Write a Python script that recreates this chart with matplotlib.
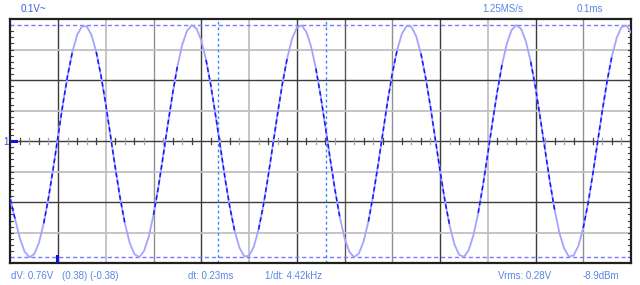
import numpy as np
import matplotlib.pyplot as plt

# trace samples, one every 0.01 ms
t_ms = [0.00, 0.01, 0.02, 0.03, 0.04, 0.05, 0.06, 0.07, 0.08, 0.09,
        0.10, 0.11, 0.12, 0.13, 0.14, 0.15, 0.16, 0.17, 0.18, 0.19,
        0.20, 0.21, 0.22, 0.23, 0.24, 0.25, 0.26, 0.27, 0.28, 0.29,
        0.30, 0.31, 0.32, 0.33, 0.34, 0.35, 0.36, 0.37, 0.38, 0.39,
        0.40, 0.41, 0.42, 0.43, 0.44, 0.45, 0.46, 0.47, 0.48, 0.49,
        0.50, 0.51, 0.52, 0.53, 0.54, 0.55, 0.56, 0.57, 0.58, 0.59,
        0.60, 0.61, 0.62, 0.63, 0.64, 0.65, 0.66, 0.67, 0.68, 0.69,
        0.70, 0.71, 0.72, 0.73, 0.74, 0.75, 0.76, 0.77, 0.78, 0.79,
        0.80, 0.81, 0.82, 0.83, 0.84, 0.85, 0.86, 0.87, 0.88, 0.89,
        0.90, 0.91, 0.92, 0.93, 0.94, 0.95, 0.96, 0.97, 0.98, 0.99,
        1.00, 1.01, 1.02, 1.03, 1.04, 1.05, 1.06, 1.07, 1.08, 1.09,
        1.10, 1.11, 1.12, 1.13, 1.14, 1.15, 1.16, 1.17, 1.18, 1.19,
        1.20, 1.21, 1.22, 1.23, 1.24, 1.25, 1.26, 1.27, 1.28, 1.29,
        1.30]
volts = [-0.190, -0.255, -0.318, -0.362, -0.380, -0.370, -0.333, -0.269, -0.186, -0.088,
         0.017, 0.120, 0.214, 0.292, 0.348, 0.376, 0.376, 0.348, 0.292, 0.214,
         0.120, 0.017, -0.088, -0.186, -0.269, -0.333, -0.370, -0.380, -0.360, -0.313,
         -0.241, -0.152, -0.050, 0.055, 0.156, 0.245, 0.315, 0.361, 0.380, 0.369,
         0.330, 0.266, 0.182, 0.084, -0.021, -0.124, -0.218, -0.295, -0.349, -0.377,
         -0.376, -0.346, -0.289, -0.211, -0.116, -0.013, 0.092, 0.189, 0.272, 0.335,
         0.371, 0.379, 0.358, 0.310, 0.238, 0.148, 0.046, -0.059, -0.159, -0.248,
         -0.317, -0.362, -0.380, -0.368, -0.328, -0.263, -0.178, -0.080, 0.025, 0.128,
         0.221, 0.297, 0.351, 0.377, 0.375, 0.344, 0.287, 0.207, 0.112, 0.008,
         -0.096, -0.193, -0.275, -0.337, -0.372, -0.379, -0.357, -0.308, -0.235, -0.144,
         -0.042, 0.063, 0.163, 0.251, 0.320, 0.364, 0.380, 0.367, 0.326, 0.260,
         0.175, 0.075, -0.029, -0.132, -0.225, -0.300, -0.352, -0.378, -0.374, -0.342,
         -0.284, -0.204, -0.108, -0.004, 0.100, 0.197, 0.278, 0.338, 0.373, 0.379,
         0.356]

grid_t = [0.1, 0.2, 0.3, 0.4, 0.5, 0.6, 0.7, 0.8, 0.9, 1.0, 1.1, 1.2]
grid_v = [-0.3, -0.2, -0.1, 0.0, 0.1, 0.2, 0.3]
cursor_v = [0.38, -0.38]
cursor_t = [0.4354, 0.661]
trigger_t = 0.0972

dark, mid, light_g = '#3c3c3c', '#909090', '#c0c0c0'
grid_t_col = [dark, light_g, mid, dark, light_g, dark, '#5a5a5a', mid, dark, light_g, dark, mid]
grid_v_col = [light_g, dark, light_g, dark, light_g, dark, light_g]

fig = plt.figure(figsize=(6.4, 2.85), dpi=100)
ax = fig.add_axes([10.3 / 640, 21.7 / 285, 620.7 / 640, 244.3 / 285])
ax.set_xlim(0, 1.3)
ax.set_ylim(-0.4, 0.4)
ax.set_xticks([])
ax.set_yticks([])
for s in ax.spines.values():
    s.set_linewidth(1.6)
    s.set_color('#202020')

for x, c in zip(grid_t, grid_t_col):
    ax.axvline(x, color=c, lw=1.3 if c == light_g else 1.0, zorder=1)
for y, c in zip(grid_v, grid_v_col):
    ax.axhline(y, color=c, lw=1.3 if c == light_g else 1.0, zorder=1)

# small ticks on the centre line and on the side edges (5 per division)
for i in range(1, 65):
    if i % 5 == 0:
        continue
    x = i * 0.02
    ax.plot([x, x], [-0.01, 0.01], color='#404040' if i % 2 else '#a0a0a0', lw=0.9, zorder=1)
for i in range(-19, 20):
    y = i * 0.02
    ax.plot([0, 0.006], [y, y], color='#404040', lw=0.8, zorder=1)
    ax.plot([1.294, 1.3], [y, y], color='#404040', lw=0.8, zorder=1)

for y in cursor_v:
    ax.axhline(y, color='#7a7aff', lw=1.0, dashes=(3, 2), zorder=2)
for x in cursor_t:
    ax.axvline(x, color='#2e8cff', lw=1.0, dashes=(2, 2), zorder=2)

v = np.array(volts)
ax.plot(t_ms, v, color='#a4a4ff', lw=1.3, zorder=3)
ax.plot(t_ms, np.where(np.abs(v) < 0.3, v, np.nan), color='#1414ff', lw=1.1,
        dashes=(3, 2), zorder=4)

# trigger marks
ax.plot([trigger_t, trigger_t], [-0.4, -0.377], color='#1010e0', lw=2.2, zorder=5)
ax.plot([0.004, 0.012], [0, 0], color='#1010e0', lw=2.2, zorder=5)

font = 'Liberation Sans'
fs = 7
txt = '#5a86e6'
fig.text(3 / 640, 1 - 142 / 285, '1', color='#3050e0', fontsize=fs, family=font, va='center')
fig.text(20.5 / 640, 1 - 9.5 / 285, '0.1V~', color='#3c5ae4', fontsize=fs, family=font, va='center')
fig.text(482 / 640, 1 - 9.5 / 285, '1.25MS/s', color=txt, fontsize=fs, family=font, va='center')
fig.text(577 / 640, 1 - 9.5 / 285, '0.1ms', color=txt, fontsize=fs, family=font, va='center')
yb = 1 - 276.3 / 285
fig.text(11 / 640, yb, 'dV: 0.76V', color=txt, fontsize=fs, family=font, va='center')
fig.text(61.5 / 640, yb, '(0.38) (-0.38)', color=txt, fontsize=fs, family=font, va='center')
fig.text(188 / 640, yb, 'dt: 0.23ms', color=txt, fontsize=fs, family=font, va='center')
fig.text(264.6 / 640, yb, '1/dt: 4.42kHz', color=txt, fontsize=fs, family=font, va='center')
fig.text(498.5 / 640, yb, 'Vrms: 0.28V', color=txt, fontsize=fs, family=font, va='center')
fig.text(582.6 / 640, yb, '-8.9dBm', color=txt, fontsize=fs, family=font, va='center')

fig.savefig('out.png', dpi=100)
